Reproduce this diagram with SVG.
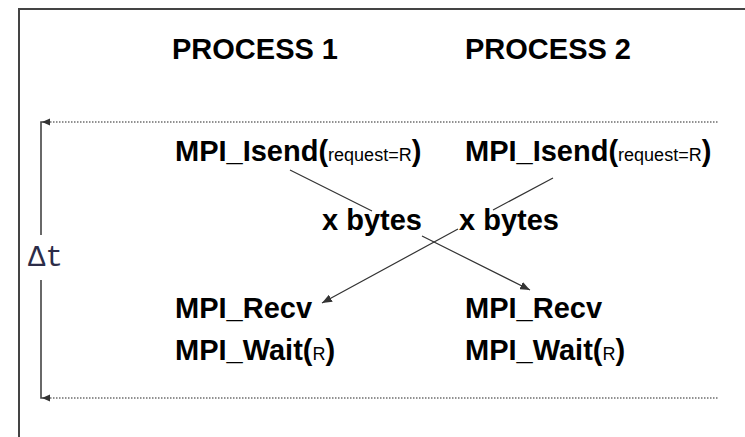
<svg xmlns="http://www.w3.org/2000/svg" width="745" height="437" viewBox="0 0 745 437">
  <style>
    .lbl { font-family: "Liberation Sans", Arial, sans-serif; font-weight: bold; font-size: 29px; fill: #000; }
    .sm { font-weight: normal; font-size: 18px; }
    .conn { stroke: #333; stroke-width: 1.2; fill: none; }
    .dot { stroke: #6e6e6e; stroke-width: 1.6; stroke-dasharray: 1.5 1.5; fill: none; }
    .axis { stroke: #444; stroke-width: 1.6; fill: none; }
  </style>
  <defs>
    <marker id="arr" viewBox="0 0 10 8" refX="10" refY="4" markerWidth="10" markerHeight="8" markerUnits="userSpaceOnUse" orient="auto">
      <path d="M0,0 L10,4 L0,8 Z" fill="#333"/>
    </marker>
  </defs>
  <rect x="0" y="0" width="745" height="437" fill="#fff"/>
  <rect x="19" y="9" width="740" height="440" fill="none" stroke="#444" stroke-width="2"/>

  <g id="timeline">
    <line class="dot" x1="50" y1="122" x2="719" y2="122"/>
    <line class="dot" x1="50" y1="398" x2="719" y2="398"/>
    <path class="axis" d="M41,235 V122 H46"/>
    <path class="axis" d="M41,280 V398 H46"/>
    <polygon points="42,122 50,118.5 50,125.5" fill="#333"/>
    <polygon points="42,398 50,394.5 50,401.5" fill="#333"/>
    <text x="28" y="266" font-family="Liberation Mono, 'Courier New', monospace" font-size="29" fill="#2c2c48">Δt</text>
  </g>

  <g id="process1-header"><text class="lbl" x="172" y="59">PROCESS 1</text></g>
  <g id="process2-header"><text class="lbl" x="465" y="59">PROCESS 2</text></g>

  <g id="p1-isend"><text class="lbl" x="175" y="161">MPI_Isend(<tspan class="sm">request=R</tspan>)</text></g>
  <g id="p2-isend"><text class="lbl" x="465" y="161">MPI_Isend(<tspan class="sm">request=R</tspan>)</text></g>

  <g id="bytes1"><text class="lbl" x="322" y="230">x bytes</text></g>
  <g id="bytes2"><text class="lbl" x="459" y="230">x bytes</text></g>

  <g id="p1-recv"><text class="lbl" x="175" y="318">MPI_Recv</text></g>
  <g id="p2-recv"><text class="lbl" x="465" y="318">MPI_Recv</text></g>

  <g id="p1-wait"><text class="lbl" x="175" y="360">MPI_Wait(<tspan class="sm">R</tspan>)</text></g>
  <g id="p2-wait"><text class="lbl" x="465" y="360">MPI_Wait(<tspan class="sm">R</tspan>)</text></g>

  <g id="connectors">
    <path class="conn" d="M290,170 L372,211 M422,236 L530,290" marker-end="url(#arr)"/>
    <path class="conn" d="M553,178 L493,210 M458,229 L322,303" marker-end="url(#arr)"/>
  </g>
</svg>
